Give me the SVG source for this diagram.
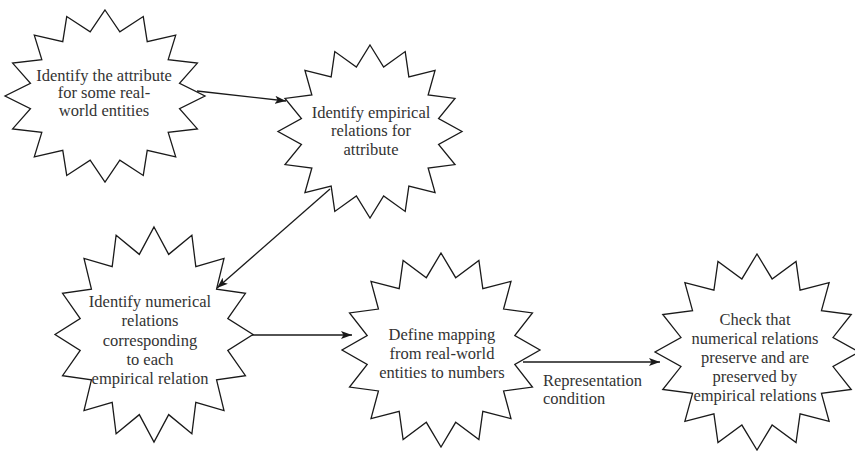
<svg xmlns="http://www.w3.org/2000/svg" xmlns:xlink="http://www.w3.org/1999/xlink" width="855" height="452" viewBox="0 0 855 452">
<style>
.star{fill:#fff;stroke:#1a1a1a;stroke-width:1.3;stroke-linejoin:miter;vector-effect:non-scaling-stroke}
.lbl{font-family:"Liberation Serif","DejaVu Serif",serif;font-size:16.5px;fill:#333;text-anchor:middle}
.edge{fill:none;stroke:#1a1a1a;stroke-width:1.3}
.elbl{font-family:"Liberation Serif","DejaVu Serif",serif;font-size:16.5px;fill:#333}
</style>
<defs>
<polygon id="starShape" class="star" points="0,-1 0.1483,-0.7454 0.3827,-0.9239 0.4223,-0.6319 0.7071,-0.7071 0.6319,-0.4223 0.9239,-0.3827 0.7454,-0.1483 1,0 0.7454,0.1483 0.9239,0.3827 0.6319,0.4223 0.7071,0.7071 0.4223,0.6319 0.3827,0.9239 0.1483,0.7454 0,1 -0.1483,0.7454 -0.3827,0.9239 -0.4223,0.6319 -0.7071,0.7071 -0.6319,0.4223 -0.9239,0.3827 -0.7454,0.1483 -1,0 -0.7454,-0.1483 -0.9239,-0.3827 -0.6319,-0.4223 -0.7071,-0.7071 -0.4223,-0.6319 -0.3827,-0.9239 -0.1483,-0.7454"/>
<marker id="arrow" markerWidth="12" markerHeight="8" refX="11" refY="4" orient="auto" markerUnits="userSpaceOnUse">
<path d="M0,0 L11,4 L0,8 L2.5,4 Z" fill="#1a1a1a"/>
</marker>
</defs>
<g id="connectors">
<line class="edge" x1="197" y1="91" x2="286" y2="101" marker-end="url(#arrow)"/>
<line class="edge" x1="330" y1="189" x2="217" y2="288" marker-end="url(#arrow)"/>
<line class="edge" x1="245" y1="335" x2="352" y2="335" marker-end="url(#arrow)"/>
<line class="edge" x1="523" y1="362" x2="660" y2="362" marker-end="url(#arrow)"/>
<text class="elbl" x="543" y="386">Representation</text>
<text class="elbl" x="543" y="404">condition</text>
</g>
<g id="n1">
<use xlink:href="#starShape" transform="translate(105,96) scale(100,86)"/>
<text class="lbl" x="104" y="80.5">Identify the attribute</text>
<text class="lbl" x="104" y="98">for some real-</text>
<text class="lbl" x="104" y="115.5">world entities</text>
</g>
<g id="n2">
<use xlink:href="#starShape" transform="translate(370,131.5) scale(92,86.5)"/>
<text class="lbl" x="371" y="118">Identify empirical</text>
<text class="lbl" x="371" y="136">relations for</text>
<text class="lbl" x="371" y="155">attribute</text>
</g>
<g id="n3">
<use xlink:href="#starShape" transform="translate(154,334.5) scale(99,107.5)"/>
<text class="lbl" x="150" y="307">Identify numerical</text>
<text class="lbl" x="150" y="326">relations</text>
<text class="lbl" x="150" y="346">corresponding</text>
<text class="lbl" x="150" y="365">to each</text>
<text class="lbl" x="150" y="384">empirical relation</text>
</g>
<g id="n4">
<use xlink:href="#starShape" transform="translate(441,350) scale(99,97)"/>
<text class="lbl" x="442" y="340">Define mapping</text>
<text class="lbl" x="442" y="359">from real-world</text>
<text class="lbl" x="442" y="378">entities to numbers</text>
</g>
<g id="n5">
<use xlink:href="#starShape" transform="translate(757,352) scale(102,98)"/>
<text class="lbl" x="755" y="325">Check that</text>
<text class="lbl" x="755" y="344">numerical relations</text>
<text class="lbl" x="755" y="363">preserve and are</text>
<text class="lbl" x="755" y="382">preserved by</text>
<text class="lbl" x="755" y="401">empirical relations</text>
</g>
</svg>
